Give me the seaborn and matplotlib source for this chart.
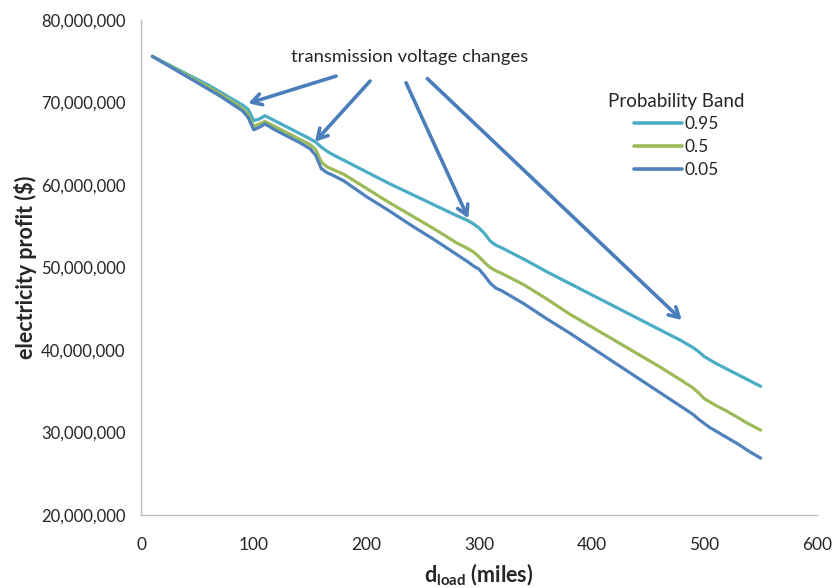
import matplotlib
matplotlib.use("Agg")
import matplotlib.pyplot as plt
import matplotlib.ticker as mticker
import seaborn as sns
import pandas as pd

# ---- data (millions of $) ----
distance = [10, 20, 30, 40, 50, 60, 70, 80, 90, 95, 100, 105, 110, 120, 130, 140,
            150, 155, 160, 165, 170, 180, 200, 220, 240, 260, 280, 290, 295, 300,
            305, 310, 315, 320, 340, 360, 380, 400, 420, 440, 460, 480, 490, 495,
            500, 505, 510, 520, 530, 540, 550]
p95 = [75.6, 74.9, 74.2, 73.5, 72.8, 72.1, 71.3, 70.5, 69.7, 69.2, 67.8, 68.0, 68.4,
       67.7, 67.0, 66.3, 65.6, 65.2, 64.6, 64.1, 63.7, 63.0, 61.6, 60.2, 58.9, 57.6,
       56.3, 55.7, 55.3, 54.8, 54.1, 53.2, 52.7, 52.4, 51.0, 49.5, 48.1, 46.7, 45.3,
       43.9, 42.5, 41.1, 40.3, 39.8, 39.2, 38.8, 38.4, 37.7, 37.0, 36.3, 35.6]
p50 = [75.6, 74.85, 74.1, 73.35, 72.6, 71.85, 71.05, 70.2, 69.3, 68.6, 67.1, 67.4, 67.7,
       67.0, 66.3, 65.6, 64.9, 64.3, 62.8, 62.2, 61.9, 61.3, 59.6, 57.9, 56.3, 54.7,
       53.0, 52.3, 51.9, 51.3, 50.6, 50.0, 49.6, 49.3, 47.9, 46.2, 44.4, 42.8, 41.2,
       39.6, 38.0, 36.3, 35.4, 34.8, 34.1, 33.7, 33.3, 32.6, 31.8, 31.0, 30.3]
p05 = [75.6, 74.8, 74.0, 73.2, 72.4, 71.6, 70.8, 69.9, 69.0, 68.2, 66.7, 67.0, 67.4,
       66.6, 65.9, 65.2, 64.4, 63.6, 62.0, 61.5, 61.2, 60.5, 58.6, 56.9, 55.1, 53.4,
       51.6, 50.7, 50.2, 49.8, 49.0, 48.1, 47.5, 47.2, 45.6, 43.8, 42.1, 40.3, 38.5,
       36.7, 34.9, 33.1, 32.2, 31.6, 31.1, 30.6, 30.2, 29.4, 28.6, 27.7, 26.9]
bands = ["0.95", "0.5", "0.05"]
colors = ["#4BACC6", "#9BBB59", "#4F81BD"]
annotation_text = "transmission voltage changes"

rows = []
for band, vals in zip(bands, [p95, p50, p05]):
    for d, v in zip(distance, vals):
        rows.append({"distance": d, "profit": v * 1e6, "band": band})
df = pd.DataFrame(rows)

sns.set_style("white")
plt.rcParams["font.family"] = ["Lato", "DejaVu Sans"]
plt.rcParams["mathtext.fontset"] = "custom"
plt.rcParams["mathtext.rm"] = "Lato"
plt.rcParams["mathtext.bf"] = "Lato:bold"

fig = plt.figure(figsize=(8.32, 5.88), dpi=100)
ax = fig.add_axes([0.1695, 0.124, 0.8125, 0.842])

sns.lineplot(data=df, x="distance", y="profit", hue="band", hue_order=bands,
             palette=dict(zip(bands, colors)), linewidth=2.3, ax=ax,
             estimator=None, sort=False)

ax.set_xlim(0, 600)
ax.set_ylim(20e6, 80e6)
ax.set_xticks(range(0, 601, 100))
ax.set_yticks([20e6 + i * 10e6 for i in range(7)])
ax.yaxis.set_major_formatter(mticker.FuncFormatter(lambda v, p: f"{int(v):,}"))

for s in ["top", "right"]:
    ax.spines[s].set_visible(False)
for s in ["left", "bottom"]:
    ax.spines[s].set_color("#BFBFBF")
    ax.spines[s].set_linewidth(1.0)
ax.tick_params(axis="both", which="major", direction="out", length=5, width=1,
               color="#BFBFBF", labelsize=12, labelcolor="#262626", pad=6)
ax.tick_params(axis="x", pad=11, labelsize=12.5)

ax.set_ylabel("electricity profit ($)", fontsize=15.5, fontweight="bold")
ax.yaxis.set_label_coords(-0.154, 0.5)
ax.set_xlabel(r"d$_{\mathbf{load}}$ (miles)", fontsize=15.5, fontweight="bold", labelpad=6)

leg = ax.legend(title="Probability Band", loc="upper left",
                bbox_to_anchor=(0.668, 0.885), frameon=False, fontsize=12.5,
                title_fontsize=13.5, handlelength=2.8, handletextpad=0.15,
                labelspacing=0.4)
for line in leg.get_lines():
    line.set_linewidth(2.6)

# annotation text and arrows
ax.text(238.8, 75.5e6, annotation_text, ha="center", va="center", fontsize=13.3,
        color="#262626")
arrow_color = "#4A7EBB"
arrows = [((173.1, 73.2), (95.2, 69.9)),
          ((203.3, 72.6), (154.4, 65.25)),
          ((235.2, 72.4), (290.5, 55.96)),
          ((254.1, 72.9), (479.9, 43.64))]
for (tx, ty), (hx, hy) in arrows:
    ax.annotate("", xy=(hx, hy * 1e6), xytext=(tx, ty * 1e6),
                arrowprops=dict(arrowstyle="->,head_length=0.7,head_width=0.4",
                                color=arrow_color, lw=2.6, shrinkA=0, shrinkB=0))

fig.savefig("out.png", dpi=100)
